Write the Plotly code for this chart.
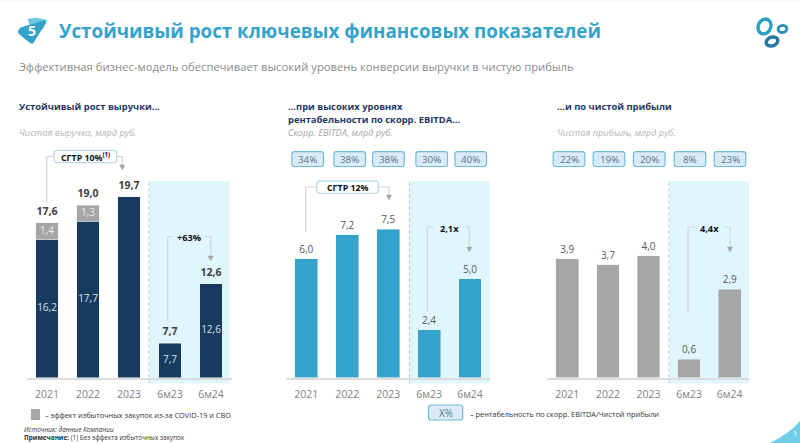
import numpy as np
import plotly.graph_objects as go

# ---------- data ----------
periods = ["2021", "2022", "2023", "6м23", "6м24"]
revenue_core = [16.2, 17.7, 19.7, 7.7, 12.6]
revenue_excess = [1.4, 1.3, None, None, None]
revenue_total = [17.6, 19.0, 19.7, 7.7, 12.6]
revenue_core_labels = ["16,2", "17,7", "", "7,7", "12,6"]
revenue_excess_labels = ["1,4", "1,3", "", "", ""]
revenue_total_labels = ["17,6", "19,0", "19,7", "7,7", "12,6"]
ebitda = [6.0, 7.2, 7.5, 2.4, 5.0]
ebitda_labels = ["6,0", "7,2", "7,5", "2,4", "5,0"]
ebitda_margin = ["34%", "38%", "38%", "30%", "40%"]
profit = [3.9, 3.7, 4.0, 0.6, 2.9]
profit_labels = ["3,9", "3,7", "4,0", "0,6", "2,9"]
profit_margin = ["22%", "19%", "20%", "8%", "23%"]

# ---------- colours ----------
NAVY, GREY, BLUE = "#173a5e", "#a6a6a6", "#33a3cc"
PANEL = "#e0f6fe"
FONT = "Open Sans"
W, H = 800, 443
BASE_PX, TOP_PX = 377.5, 170


def X(p):
    return p / W


def Y(p):
    return 1 - p / H


shapes, notes = [], []


def text(x, y, s, size, color, anchor="left", bold=False, italic=False):
    if bold:
        s = f"<b>{s}</b>"
    if italic:
        s = f"<i>{s}</i>"
    notes.append(dict(x=X(x), y=Y(y), xref="paper", yref="paper", text=s, showarrow=False,
                      xanchor=anchor, yanchor="middle", align="left", borderpad=0,
                      font=dict(family=FONT, size=size, color=color)))


def rrect(x0, y0, x1, y1, r, fill, line, lw=1.2):
    d = (f"M{X(x0 + r)},{Y(y0)} L{X(x1 - r)},{Y(y0)} Q{X(x1)},{Y(y0)} {X(x1)},{Y(y0 + r)} "
         f"L{X(x1)},{Y(y1 - r)} Q{X(x1)},{Y(y1)} {X(x1 - r)},{Y(y1)} L{X(x0 + r)},{Y(y1)} "
         f"Q{X(x0)},{Y(y1)} {X(x0)},{Y(y1 - r)} L{X(x0)},{Y(y0 + r)} Q{X(x0)},{Y(y0)} {X(x0 + r)},{Y(y0)} Z")
    shapes.append(dict(type="path", xref="paper", yref="paper", path=d, fillcolor=fill,
                       line=dict(color=line, width=lw), layer="above"))


def poly(points, color, lw=1.2, fill=None, layer="above"):
    d = "M" + " L".join(f"{X(a)},{Y(b)}" for a, b in points)
    if fill:
        d += " Z"
    shapes.append(dict(type="path", xref="paper", yref="paper", path=d,
                       fillcolor=fill or "rgba(0,0,0,0)",
                       line=dict(color=color, width=lw), layer=layer))


def bracket(xl, ybot, ytop, xl2, xr1, xr2, yarrow):
    poly([(xl, ybot), (xl, ytop), (xl2, ytop)], "#d4d4d4", 1.2)
    poly([(xr1, ytop), (xr2, ytop), (xr2, yarrow)], "#d4d4d4", 1.2)
    poly([(xr2 - 2.6, yarrow), (xr2 + 2.6, yarrow), (xr2, yarrow + 5)], GREY, 0.5, fill=GREY)


def ellipse(cx, cy, rx, ry, deg, color, lw):
    t = np.radians(deg)
    pts = []
    for a in np.linspace(0, 2 * np.pi, 37)[:-1]:
        u, v = rx * np.cos(a), ry * np.sin(a)
        pts.append((cx + u * np.cos(t) - v * np.sin(t), cy + u * np.sin(t) + v * np.cos(t)))
    poly(pts + [pts[0]], color, lw, layer="above")


# ---------- page furniture ----------
shapes.append(dict(type="rect", xref="paper", yref="paper", x0=0, x1=1, y0=Y(2), y1=1,
                   fillcolor="#f8f8f8", line=dict(width=0), layer="below"))
poly([(28, 19), (36, 18), (47, 20), (42, 30), (30, 26)], "#6cc7e4", 0.5, fill="#6cc7e4")
d = (f"M{X(19)},{Y(29)} Q{X(17)},{Y(32)} {X(19)},{Y(34)} L{X(30)},{Y(43)} Q{X(33)},{Y(45)} {X(34)},{Y(42)} "
     f"L{X(46)},{Y(23)} Q{X(47)},{Y(20)} {X(44)},{Y(20.5)} L{X(22)},{Y(27)} Q{X(20)},{Y(27.5)} {X(19)},{Y(29)} Z")
shapes.append(dict(type="path", xref="paper", yref="paper", path=d, fillcolor=BLUE,
                   line=dict(width=0), layer="above"))
text(32, 30.5, "5", 14, "white", "center", bold=True)
text(58, 31.5, "Устойчивый рост ключевых финансовых показателей", 18.8, BLUE, bold=True)
text(18, 66.5, "Эффективная бизнес-модель обеспечивает высокий уровень конверсии выручки в чистую прибыль", 11.25, "#8c8c8c")
ellipse(764.5, 26.5, 6.2, 7.6, 25, "#2b9fc4", 3.4)
ellipse(782.5, 29, 4.4, 3.5, -10, "#2b8fb8", 2.8)
ellipse(772, 41.5, 6, 4.3, -20, "#22789f", 3.4)
d = (f"M{X(770)},{Y(443)} Q{X(790)},{Y(433)} {X(800)},{Y(421)} L{X(800)},{Y(443)} Z")
shapes.append(dict(type="path", xref="paper", yref="paper", path=d, fillcolor="#6fcde8",
                   line=dict(width=0), layer="above"))
text(795, 433, "1", 7.5, "white", "center")

# ---------- headings ----------
HEAD = "#1f3864"
text(18, 107, "Устойчивый рост выручки...", 9.4, HEAD, bold=True)
text(287, 107, "...при высоких уровнях", 9.4, HEAD, bold=True)
text(287, 119.5, "рентабельности по скорр. EBITDA...", 9.4, HEAD, bold=True)
text(556, 107, "...и по чистой прибыли", 9.4, HEAD, bold=True)
text(18, 132.5, "Чистая выручка, млрд руб.", 9.2, "#b3b3b3", italic=True)
text(287, 132.5, "Скорр. EBITDA, млрд руб.", 9.2, "#a6a6a6", italic=True)
text(556, 132.5, "Чистая прибыль, млрд руб.", 9.2, "#b3b3b3", italic=True)

# ---------- panels ----------
for x0, x1 in [(149, 229.5), (409.5, 490), (669, 749)]:
    shapes.append(dict(type="rect", xref="paper", yref="paper", x0=X(x0), x1=X(x1), y0=Y(383.5), y1=Y(181.3),
                       fillcolor=PANEL, line=dict(width=0), layer="below"))
    shapes.append(dict(type="line", xref="paper", yref="paper", x0=X(x0), x1=X(x0), y0=Y(383.5), y1=Y(181.3),
                       line=dict(color="#a9c9d6", width=1, dash="dot"), layer="below"))

# ---------- margin chips ----------
CHIP_FILL, CHIP_LINE, CHIP_TEXT = "#dbeaf7", "#6fbcdc", "#54758c"
for labels, centers in [(ebitda_margin, [307.7, 349.7, 388.5, 431.7, 470.7]),
                        (profit_margin, [569, 609, 649.3, 690, 730])]:
    for lab, c in zip(labels, centers):
        rrect(c - 15.8, 151.7, c + 15.8, 166.5, 2.5, CHIP_FILL, CHIP_LINE)
        text(c, 159.3, lab, 9.8, CHIP_TEXT, "center")

# ---------- CAGR callouts ----------
bracket(46.7, 203, 156.5, 54, 116.7, 122.3, 165)
rrect(54, 150.5, 116.7, 162.7, 3, "white", "#bcdcf0", 1.3)
text(85.3, 156.6, "СГТР 10%<sup>(1)</sup>", 8.8, "#111111", "center", bold=True)
bracket(305.7, 232, 187, 316.7, 378.3, 389, 195)
rrect(316.7, 181, 378.3, 193.3, 3, "white", "#bcdcf0", 1.3)
text(347.5, 187.5, "СГТР 12%", 8.8, "#111111", "center", bold=True)

bracket(167.7, 320.7, 236.5, 172.7, 205, 210.7, 256)
text(189.3, 237, "+63%", 9.2, "#111111", "center", bold=True)
bracket(427.3, 311.7, 227, 434, 465, 469.3, 247)
text(449.3, 228.3, "2,1x", 9.2, "#111111", "center", bold=True)
bracket(688, 311.7, 227, 695, 724, 730, 247)
text(709.3, 228.3, "4,4x", 9.2, "#111111", "center", bold=True)

# ---------- legends and notes ----------
shapes.append(dict(type="rect", xref="paper", yref="paper", x0=X(31), x1=X(40), y0=Y(420), y1=Y(409),
                   fillcolor=GREY, line=dict(width=0)))
text(44, 414.5, "– эффект избыточных закупок из-за COVID-19 и СВО", 7.35, "#333333")
rrect(428.5, 405, 462.7, 420, 2.5, CHIP_FILL, CHIP_LINE)
text(445.6, 412.5, "X%", 10, CHIP_TEXT, "center")
text(469, 413.5, "– рентабельность по скорр. EBITDA/Чистой прибыли", 7.35, "#333333")
text(23, 429.5, "Источник: данные Компании", 6.5, "#333333", italic=True)
text(23, 437, "<b>Примечание:</b> (1) Без эффекта избыточных закупок", 6.4, "#333333")

# ---------- charts ----------
fig = go.Figure()


def setup(i, x0, x1, ymin, ppu):
    sfx = "" if i == 1 else str(i)
    fig.update_layout({
        f"xaxis{sfx}": dict(domain=[X(x0), X(x1)], type="category", categoryorder="array",
                            categoryarray=periods, range=[-0.5, 4.5], showgrid=False, zeroline=False,
                            showline=True, linecolor="#dcdcdc", linewidth=1.5, ticks="",
                            ticklabelstandoff=6, anchor=f"y{sfx}",
                            tickfont=dict(family=FONT, size=10.5, color="#7f7f7f")),
        f"yaxis{sfx}": dict(domain=[Y(BASE_PX), Y(TOP_PX)], range=[ymin, ymin + (BASE_PX - TOP_PX) / ppu],
                            visible=False, anchor=f"x{sfx}"),
    })


setup(1, 26.5, 231.5, 4.9, 12.2)
setup(2, 285.85, 490.45, 0, 19.8)
setup(3, 547, 750, 0, 30.5)

REV_MIN = 4.9
fig.add_trace(go.Bar(x=periods, y=revenue_core, marker_color=NAVY, xaxis="x", yaxis="y", width=0.56))
fig.add_trace(go.Bar(x=periods, y=revenue_excess, marker_color=GREY, xaxis="x", yaxis="y", width=0.56))

# labels inside the bars, only where the reference prints one
core_rows = [(p, (REV_MIN + v) / 2, s) for p, v, s in zip(periods, revenue_core, revenue_core_labels) if s]
fig.add_trace(go.Scatter(x=[r[0] for r in core_rows], y=[r[1] for r in core_rows], mode="text",
                         text=[r[2] for r in core_rows], textposition="middle center",
                         textfont=dict(family=FONT, size=10, color="#d9e2ea"), xaxis="x", yaxis="y"))
excess_rows = [(p, c + e / 2, s) for p, c, e, s in zip(periods, revenue_core, revenue_excess, revenue_excess_labels) if s]
fig.add_trace(go.Scatter(x=[r[0] for r in excess_rows], y=[r[1] for r in excess_rows], mode="text",
                         text=[r[2] for r in excess_rows], textposition="middle center",
                         textfont=dict(family=FONT, size=10, color="#ececec"), xaxis="x", yaxis="y"))
# an invisible marker lifts the value labels clear of the bar tops
fig.add_trace(go.Scatter(x=periods, y=revenue_total, mode="markers+text", text=revenue_total_labels,
                         textposition="top center", cliponaxis=False, marker=dict(size=7, opacity=0),
                         textfont=dict(family=FONT, size=10.5, color="#404040", weight="bold"),
                         xaxis="x", yaxis="y"))

for vals, labs, color, xa, ya in [(ebitda, ebitda_labels, BLUE, "x2", "y2"),
                                  (profit, profit_labels, GREY, "x3", "y3")]:
    fig.add_trace(go.Bar(x=periods, y=vals, marker_color=color, xaxis=xa, yaxis=ya, width=0.56))
    fig.add_trace(go.Scatter(x=periods, y=vals, mode="markers+text", text=labs, textposition="top center",
                             cliponaxis=False, marker=dict(size=4, opacity=0),
                             textfont=dict(family=FONT, size=10, color="#595959"),
                             xaxis=xa, yaxis=ya))

fig.update_layout(width=W, height=H, margin=dict(l=0, r=0, t=0, b=0), barmode="stack",
                  plot_bgcolor="rgba(0,0,0,0)", paper_bgcolor="white", showlegend=False,
                  shapes=shapes, annotations=notes, font=dict(family=FONT))
fig.write_html("out.html", config=dict(displayModeBar=False),
               post_script="document.body.style.margin='0';document.documentElement.style.overflow='hidden';")
